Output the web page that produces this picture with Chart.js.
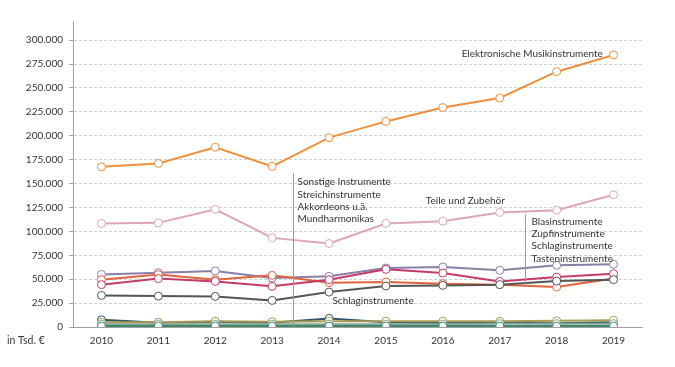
<!DOCTYPE html>
<html>
<head>
<meta charset="utf-8">
<script src="https://cdn.jsdelivr.net/npm/chart.js@4/dist/chart.umd.min.js"></script>
<style>
  html, body { margin: 0; padding: 0; background: #fff; }
  #wrap { width: 675px; height: 367px; position: relative; }
</style>
</head>
<body>
<div id="wrap"><canvas id="c"></canvas></div>
<script>
const years = ["2010", "2011", "2012", "2013", "2014", "2015", "2016", "2017", "2018", "2019"];

// Werte in Tsd. €
const elektronisch = [167500, 171000, 188000, 168000, 198000, 215000, 229500, 239500, 267000, 284500];
const teileZubehoer = [108300, 108900, 123000, 93200, 87300, 108300, 110700, 119800, 122200, 138300];
const violett = [55000, 56800, 58600, 51200, 53000, 61700, 62800, 59300, 64500, 65600];
const rotorange = [49500, 54800, 49500, 54000, 46400, 47000, 45300, 44300, 41800, 50600];
const karmin = [44300, 50600, 47700, 42500, 49500, 60300, 56400, 47700, 52200, 55800];
const schlag = [33000, 32300, 32000, 27800, 36500, 42800, 43500, 44300, 48000, 49500];
const schiefer = [7500, 4500, 5500, 4500, 9000, 5000, 4500, 4500, 4000, 5000];
const oliv = [5000, 5000, 6000, 5500, 6000, 6000, 6000, 6000, 6500, 7000];
const graugruen = [3000, 3000, 3000, 3000, 3000, 3000, 3000, 3500, 3500, 3500];
const gruen = [1000, 1000, 1000, 1000, 1000, 1000, 1000, 1000, 1000, 1000];

const seriesList = [
  { data: gruen, color: "#3f8a68" },
  { data: graugruen, color: "#86a79b" },
  { data: oliv, color: "#a99b50" },
  { data: schiefer, color: "#2f5368" },
  { data: schlag, color: "#555555" },
  { data: karmin, color: "#c23c68" },
  { data: rotorange, color: "#e0643c" },
  { data: violett, color: "#8c7ea8" },
  { data: teileZubehoer, color: "#dca6b8" },
  { data: elektronisch, color: "#ef8f3c" },
];

const FONT = "Lato";
const textColor = "#333333";

function fmtNum(v) {
  return String(v).replace(/\B(?=(\d{3})+(?!\d))/g, ".");
}

// Beschriftungen direkt im Diagramm
const annotations = {
  id: "annotations",
  afterDraw(chart) {
    const { ctx } = chart;
    const x = chart.scales.x;
    const y = chart.scales.y;
    ctx.save();
    ctx.font = "10px " + FONT;
    ctx.fillStyle = textColor;
    ctx.textBaseline = "middle";
    ctx.textAlign = "left";

    const lineH = 12.2;
    const put = (txt, xi, yv) => ctx.fillText(txt, x.getPixelForValue(xi), y.getPixelForValue(yv));

    put("Elektronische Musikinstrumente", 6.33, 285500);
    put("Teile und Zubehör", 5.70, 132000);
    put("Schlaginstrumente", 4.06, 27500);

    ctx.strokeStyle = "#9a9a9a";
    ctx.lineWidth = 1;

    const blockA = ["Sonstige Instrumente", "Streichinstrumente", "Akkordeons u.ä.", "Mundharmonikas"];
    const ax = Math.round(x.getPixelForValue(3.36)) + 0.5;
    ctx.beginPath();
    ctx.moveTo(ax, y.getPixelForValue(161000));
    ctx.lineTo(ax, y.getPixelForValue(0));
    ctx.stroke();
    blockA.forEach((t, i) => ctx.fillText(t, ax + 4, y.getPixelForValue(151500) + i * lineH));

    const blockB = ["Blasinstrumente", "Zupfinstrumente", "Schlaginstrumente", "Tasteninstrumente"];
    const bx = Math.round(x.getPixelForValue(7.44)) + 0.5;
    ctx.beginPath();
    ctx.moveTo(bx, y.getPixelForValue(118000));
    ctx.lineTo(bx, y.getPixelForValue(42000));
    ctx.stroke();
    blockB.forEach((t, i) => ctx.fillText(t, bx + 6, y.getPixelForValue(110000) + i * lineH));

    ctx.font = "10.5px " + FONT;
    ctx.fillText("in Tsd. €", 7, x.top + 14);
    ctx.restore();
  },
};

new Chart(document.getElementById("c"), {
  type: "line",
  data: {
    labels: years,
    datasets: seriesList.map((s) => ({
      data: s.data,
      borderColor: s.color,
      backgroundColor: "#ffffff",
      borderWidth: 2,
      pointRadius: 4,
      pointBorderWidth: 1,
      pointBackgroundColor: "#ffffff",
      pointBorderColor: s.color,
      tension: 0,
    })),
  },
  options: {
    responsive: true,
    maintainAspectRatio: false,
    animation: false,
    devicePixelRatio: 1,
    layout: { padding: { top: 21, right: 33, bottom: 16, left: 0 } },
    plugins: { legend: { display: false }, tooltip: { enabled: false } },
    scales: {
      x: {
        offset: true,
        grid: { display: false, drawTicks: false },
        border: { color: "#a0a0a0", width: 1 },
        ticks: { color: textColor, padding: 8, font: { family: FONT, size: 10 }, maxRotation: 0 },
        afterFit: (s) => { s.height = 24; },
      },
      y: {
        min: 0,
        max: 320000,
        afterBuildTicks: (s) => {
          s.ticks = [];
          for (let v = 0; v <= 300000; v += 25000) s.ticks.push({ value: v });
        },
        grid: { color: "#cfcfcf", tickLength: 4, tickColor: "#a0a0a0", tickBorderDash: [] },
        border: { color: "#a0a0a0", width: 1, dash: [3, 2] },
        ticks: {
          color: textColor,
          padding: 6,
          font: { family: FONT, size: 10 },
          callback: (v) => fmtNum(v),
        },
        afterFit: (s) => { s.width = 73; },
      },
    },
  },
  plugins: [annotations],
});
</script>
</body>
</html>
